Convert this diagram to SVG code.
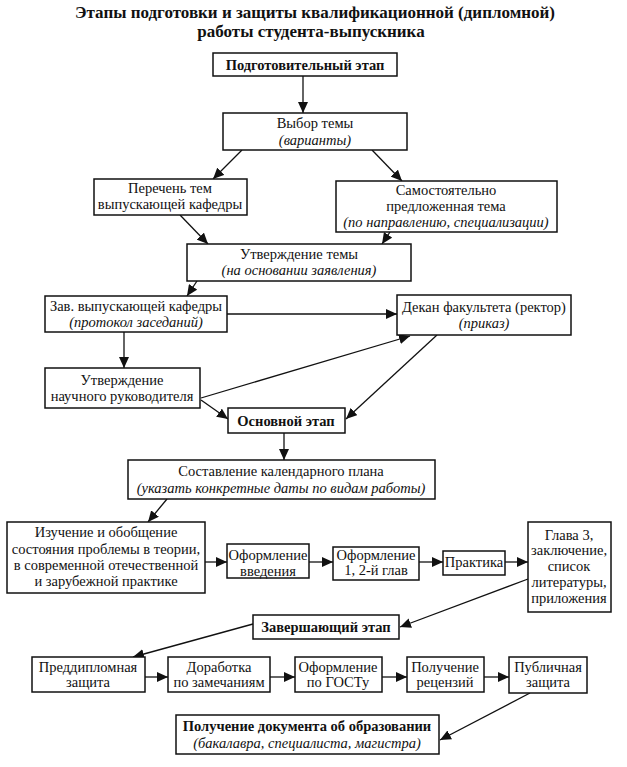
<svg xmlns="http://www.w3.org/2000/svg" width="627" height="767" viewBox="0 0 627 767" font-family="'Liberation Serif', 'DejaVu Serif', 'Times New Roman', serif">
<style>
text{font-family:'Liberation Serif','DejaVu Serif','Times New Roman',serif;font-size:14.5px;fill:#111;text-anchor:middle}
.b{font-weight:bold}
.i{font-style:italic}
.t{font-weight:bold;font-size:17px}
rect{fill:#fff;stroke:#111;stroke-width:1.5}
.c line{stroke:#111;stroke-width:1.3;marker-end:url(#ah)}
</style>
<defs>
<marker id="ah" markerUnits="userSpaceOnUse" markerWidth="12" markerHeight="10" refX="11" refY="5" orient="auto">
<path d="M0,0 L11,5 L0,10 Z" fill="#111"/>
</marker>
</defs>
<rect x="0" y="0" width="627" height="767" style="stroke:none"/>
<g id="title">
<text class="t" x="315" y="18">Этапы подготовки и защиты квалификационной (дипломной)</text>
<text class="t" x="311" y="37">работы студента-выпускника</text>
</g>
<g class="c" id="connectors">
<line x1="303" y1="76" x2="303" y2="113"/>
<line x1="242" y1="150" x2="213" y2="179"/>
<line x1="372" y1="150" x2="402" y2="181"/>
<line x1="180" y1="215" x2="208" y2="244"/>
<line x1="390" y1="232" x2="382" y2="244"/>
<line x1="197" y1="281" x2="187" y2="296"/>
<line x1="227" y1="314" x2="397" y2="314"/>
<line x1="124" y1="332" x2="124" y2="368"/>
<line x1="201" y1="398" x2="410" y2="336"/>
<line x1="201" y1="400" x2="228" y2="419"/>
<line x1="437" y1="335" x2="346" y2="419"/>
<line x1="284" y1="433" x2="284" y2="460"/>
<line x1="167" y1="499" x2="148" y2="522"/>
<line x1="205" y1="562" x2="227" y2="562"/>
<line x1="309" y1="562" x2="333" y2="562"/>
<line x1="419" y1="562" x2="443" y2="562"/>
<line x1="505" y1="562" x2="528" y2="562"/>
<line x1="528" y1="579" x2="400" y2="627"/>
<line x1="253" y1="624" x2="133" y2="657"/>
<line x1="145" y1="677" x2="168" y2="677"/>
<line x1="270" y1="677" x2="295" y2="677"/>
<line x1="382" y1="677" x2="407" y2="677"/>
<line x1="484" y1="677" x2="509" y2="677"/>
<line x1="530" y1="693" x2="440" y2="740"/>
</g>
<g id="podg">
<rect x="213" y="53" width="184" height="23"/>
<text class="b" x="305" y="70">Подготовительный этап</text>
</g>
<g id="vybor">
<rect x="223" y="113" width="184" height="37"/>
<text x="315" y="128">Выбор темы</text>
<text class="i" x="315" y="145">(варианты)</text>
</g>
<g id="perechen">
<rect x="94" y="179" width="153" height="36"/>
<text x="170" y="193">Перечень тем</text>
<text x="170" y="209">выпускающей кафедры</text>
</g>
<g id="samost">
<rect x="336" y="181" width="221" height="51"/>
<text x="446" y="195">Самостоятельно</text>
<text x="446" y="211">предложенная тема</text>
<text class="i" x="446" y="227">(по направлению, специализации)</text>
</g>
<g id="utvtemy">
<rect x="187" y="244" width="224" height="37"/>
<text x="299" y="259">Утверждение темы</text>
<text class="i" x="299" y="275">(на основании заявления)</text>
</g>
<g id="zav">
<rect x="45" y="296" width="182" height="36"/>
<text x="136" y="311">Зав. выпускающей кафедры</text>
<text class="i" x="136" y="327">(протокол заседаний)</text>
</g>
<g id="dekan">
<rect x="397" y="295" width="174" height="40"/>
<text x="484" y="312">Декан факультета (ректор)</text>
<text class="i" x="484" y="328">(приказ)</text>
</g>
<g id="nauch">
<rect x="45" y="368" width="155" height="40"/>
<text x="122" y="385">Утверждение</text>
<text x="122" y="401">научного руководителя</text>
</g>
<g id="osnov">
<rect x="228" y="408" width="117" height="25"/>
<text class="b" x="286" y="426">Основной этап</text>
</g>
<g id="sostav">
<rect x="128" y="460" width="307" height="39"/>
<text x="281" y="476">Составление календарного плана</text>
<text class="i" x="281" y="493">(указать конкретные даты по видам работы)</text>
</g>
<g id="izuch">
<rect x="7" y="522" width="198" height="71"/>
<text x="106" y="537">Изучение и обобщение</text>
<text x="106" y="554">состояния проблемы в теории,</text>
<text x="106" y="570">в современной отечественной</text>
<text x="106" y="586">и зарубежной практике</text>
</g>
<g id="vved">
<rect x="227" y="544" width="82" height="34"/>
<text x="268" y="560">Оформление</text>
<text x="268" y="576">введения</text>
</g>
<g id="glav12">
<rect x="333" y="547" width="86" height="33"/>
<text x="376" y="560">Оформление</text>
<text x="376" y="575">1, 2-й глав</text>
</g>
<g id="praktika">
<rect x="443" y="551" width="62" height="24"/>
<text x="474" y="567">Практика</text>
</g>
<g id="glava3">
<rect x="528" y="522" width="83" height="90"/>
<text x="569" y="540">Глава 3,</text>
<text x="569" y="555">заключение,</text>
<text x="569" y="571">список</text>
<text x="569" y="587">литературы,</text>
<text x="569" y="603">приложения</text>
</g>
<g id="zaversh">
<rect x="253" y="615" width="146" height="24"/>
<text class="b" x="326" y="632">Завершающий этап</text>
</g>
<g id="predd">
<rect x="32" y="657" width="113" height="35"/>
<text x="88" y="672">Преддипломная</text>
<text x="88" y="687">защита</text>
</g>
<g id="dorab">
<rect x="168" y="657" width="102" height="35"/>
<text x="219" y="672">Доработка</text>
<text x="219" y="687">по замечаниям</text>
</g>
<g id="gost">
<rect x="295" y="657" width="87" height="35"/>
<text x="338" y="672">Оформление</text>
<text x="338" y="687">по ГОСТу</text>
</g>
<g id="recenz">
<rect x="407" y="657" width="77" height="35"/>
<text x="445" y="672">Получение</text>
<text x="445" y="687">рецензий</text>
</g>
<g id="public">
<rect x="509" y="657" width="78" height="36"/>
<text x="548" y="672">Публичная</text>
<text x="548" y="687">защита</text>
</g>
<g id="document">
<rect x="176" y="715" width="263" height="39"/>
<text class="b" x="307" y="731">Получение документа об образовании</text>
<text class="i" x="307" y="748">(бакалавра, специалиста, магистра)</text>
</g>
</svg>
